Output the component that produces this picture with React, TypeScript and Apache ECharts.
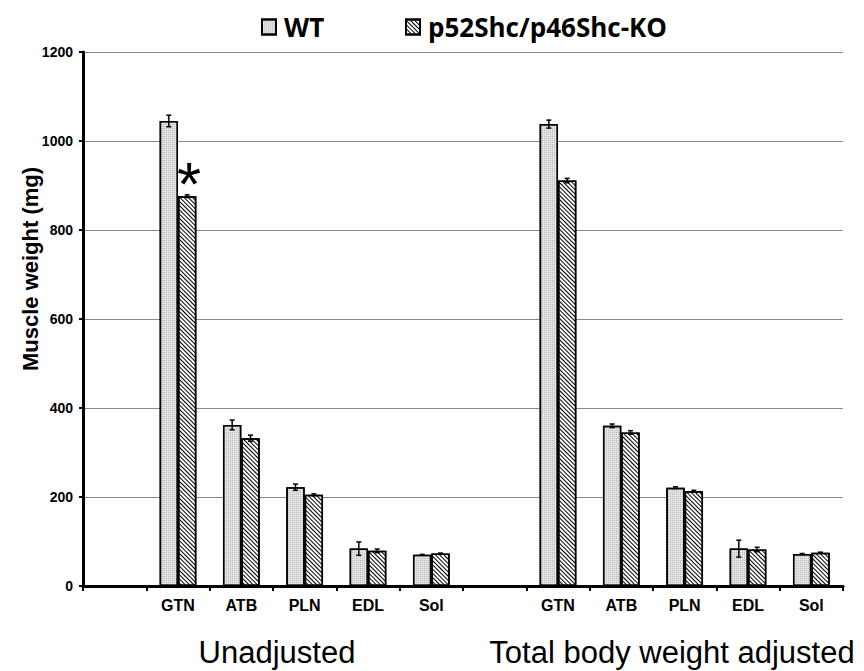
import React, { useEffect, useRef } from "react";
import * as echarts from "echarts";

const categories = ["", "GTN", "ATB", "PLN", "EDL", "Sol", "", "GTN", "ATB", "PLN", "EDL", "Sol"];
const seriesNames = ["WT", "p52Shc/p46Shc-KO"];
const unadjWT = [1045, 362, 222, 84, 70];
const unadjKO = [876, 332, 205, 79, 73];
const adjWT = [1038, 360, 221, 84, 72];
const adjKO = [911, 345, 213, 82, 75];
const unadjWTErr = [13, 11, 7, 15, 1];
const unadjKOErr = [3, 7, 2, 4, 1];
const adjWTErr = [9, 4, 2, 19, 1];
const adjKOErr = [5, 4, 2, 5, 1];
const groupLabels = ["Unadjusted", "Total body weight adjusted"];
const yTicks = { min: 0, max: 1200, interval: 200 };
const yAxisTitle = "Muscle weight (mg)";

const FONT = 'Arial, "Liberation Sans", sans-serif';

function buildValues(a: number[], b: number[]) {
  return [null, ...a, null, ...b];
}

export default function App() {
  const ref = useRef<HTMLDivElement>(null);
  useEffect(() => {
    if (!ref.current) return;
    const chart = echarts.init(ref.current, null, { renderer: "svg" });
    const wtVals = buildValues(unadjWT, adjWT);
    const koVals = buildValues(unadjKO, adjKO);
    const wtErr = buildValues(unadjWTErr, adjWTErr);
    const koErr = buildValues(unadjKOErr, adjKOErr);
    const catGap = 0.42;

    const koData = koVals.map((v, i) =>
      i === 1
        ? {
            value: v,
            label: {
              show: true,
              position: "top",
              formatter: "*",
              fontSize: 62,
              fontFamily: FONT,
              color: "#000",
              distance: -18,
              offset: [2, 0],
            },
          }
        : v
    );

    const errData = (vals: (number | null)[], errs: (number | null)[]) =>
      vals
        .map((v, i) => (v == null ? null : [i, v, errs[i] as number]))
        .filter((d) => d != null);

    const makeErr = (side: number, vals: any, errs: any) => ({
      type: "custom",
      z: 5,
      silent: true,
      data: errData(vals, errs),
      encode: { x: 0, y: 1 },
      renderItem: (params: any, api: any) => {
        const x = api.value(0);
        const v = api.value(1);
        const e = api.value(2);
        const band = api.size([1, 0])[0];
        const bw = (band * (1 - catGap)) / 2;
        const top = api.coord([x, v + e]);
        const bot = api.coord([x, v - e]);
        const cx = top[0] + (side * bw) / 2;
        const cap = 2.5;
        const st = { stroke: "#000", lineWidth: 1.5 };
        return {
          type: "group",
          children: [
            { type: "line", shape: { x1: cx, y1: top[1], x2: cx, y2: bot[1] }, style: st },
            { type: "line", shape: { x1: cx - cap, y1: top[1], x2: cx + cap, y2: top[1] }, style: st },
            { type: "line", shape: { x1: cx - cap, y1: bot[1], x2: cx + cap, y2: bot[1] }, style: st },
          ],
        };
      },
    });

    const legendBase = {
      top: 9,
      itemWidth: 14,
      itemHeight: 15,
      icon: "rect",
      textStyle: {
        fontFamily: '"Open Sans", sans-serif',
        fontWeight: "bold",
        fontSize: 26,
        color: "#000",
        padding: [0, 0, 0, 3],
      },
    };

    chart.setOption({
      animation: false,
      backgroundColor: "#fff",
      legend: [
        { ...legendBase, left: 256, data: [seriesNames[0]] },
        { ...legendBase, left: 400, data: [seriesNames[1]] },
      ],
      grid: { left: 83, right: 21, top: 52, bottom: 85 },
      xAxis: {
        type: "category",
        data: categories,
        axisLine: { lineStyle: { color: "#000", width: 3 } },
        axisTick: { show: true, interval: 0, length: 5, lineStyle: { color: "#000", width: 2 } },
        axisLabel: {
          interval: 0,
          margin: 11,
          fontFamily: FONT,
          fontWeight: "bold",
          fontSize: 16,
          color: "#000",
        },
      },
      yAxis: {
        type: "value",
        min: yTicks.min,
        max: yTicks.max,
        interval: yTicks.interval,
        axisLine: { show: true, lineStyle: { color: "#000", width: 3 } },
        axisTick: { show: true, length: 4, lineStyle: { color: "#000", width: 2 } },
        axisLabel: {
          margin: 10,
          fontFamily: FONT,
          fontWeight: "bold",
          fontSize: 14,
          color: "#000",
          formatter: (v: number) => String(v),
        },
        splitLine: { lineStyle: { color: "#888", width: 1 } },
      },
      series: [
        {
          name: seriesNames[0],
          type: "bar",
          data: wtVals,
          barGap: "0%",
          barCategoryGap: catGap * 100 + "%",
          itemStyle: {
            color: "#e4e4e4",
            borderColor: "#000",
            borderWidth: 1.5,
            decal: {
              symbol: "rect",
              symbolSize: 1,
              dashArrayX: [1, 1],
              dashArrayY: [1, 1],
              color: "#b8b8b8",
            },
          },
        },
        {
          name: seriesNames[1],
          type: "bar",
          data: koData,
          itemStyle: {
            color: "#fff",
            borderColor: "#000",
            borderWidth: 1.5,
            decal: {
              symbol: "rect",
              symbolSize: 1,
              dashArrayX: [1, 0],
              dashArrayY: [1, 2],
              rotation: Math.PI / 4,
              color: "#000",
            },
          },
        },
        makeErr(-1, wtVals, wtErr),
        makeErr(1, koVals, koErr),
      ],
      graphic: [
        {
          type: "text",
          x: 30,
          y: 269,
          rotation: Math.PI / 2,
          style: {
            text: yAxisTitle,
            fontFamily: FONT,
            fontWeight: "bold",
            fontSize: 22,
            fill: "#000",
            align: "center",
            verticalAlign: "middle",
          },
        },
        {
          type: "text",
          x: 277,
          y: 652,
          style: {
            text: groupLabels[0],
            fontFamily: FONT,
            fontSize: 31,
            fill: "#000",
            align: "center",
            verticalAlign: "middle",
          },
        },
        {
          type: "text",
          x: 672,
          y: 652,
          style: {
            text: groupLabels[1],
            fontFamily: FONT,
            fontSize: 31,
            fill: "#000",
            align: "center",
            verticalAlign: "middle",
          },
        },
      ],
    });
    return () => chart.dispose();
  }, []);
  return (
    <div
      ref={ref}
      style={{ position: "fixed", left: 0, top: 0, width: 864, height: 671, background: "#fff" }}
    />
  );
}
